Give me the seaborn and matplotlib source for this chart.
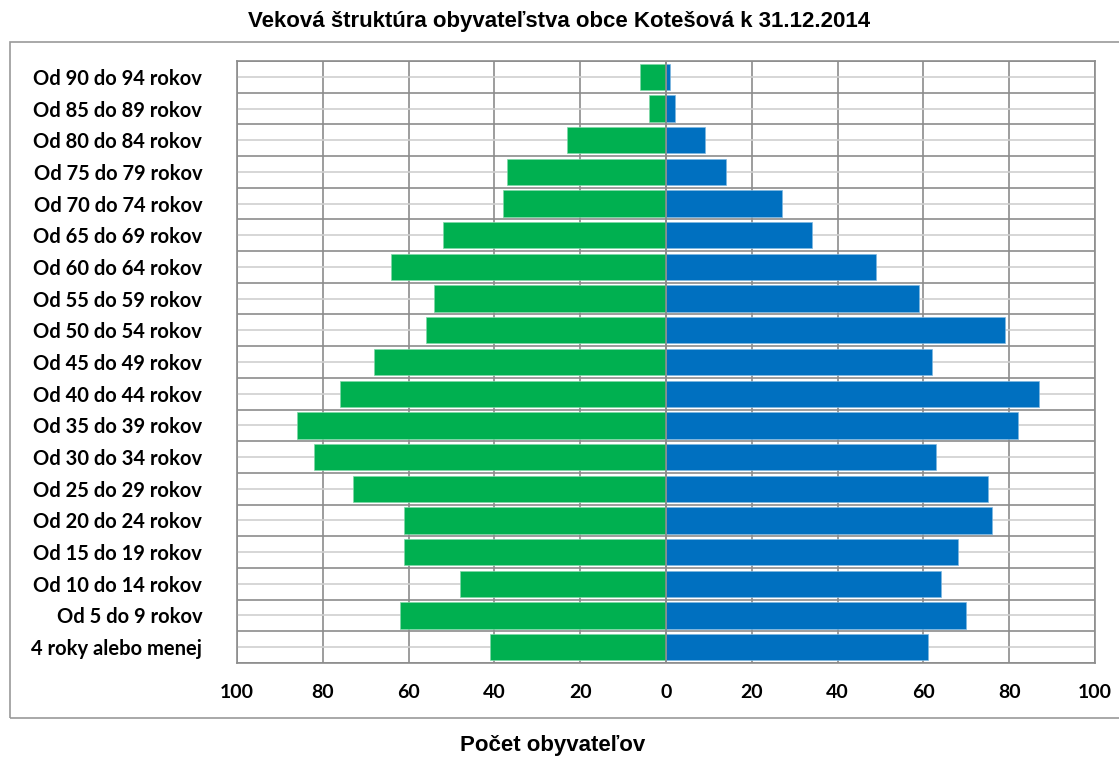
import matplotlib
matplotlib.use('Agg')
from matplotlib import pyplot as plt
from matplotlib.patches import Rectangle
from matplotlib.ticker import FixedLocator
import pandas as pd
import seaborn as sns

# Veková štruktúra - Kotešová 31.12.2014
categories = ['Od 90 do 94 rokov', 'Od 85 do 89 rokov', 'Od 80 do 84 rokov',
              'Od 75 do 79 rokov', 'Od 70 do 74 rokov', 'Od 65 do 69 rokov',
              'Od 60 do 64 rokov', 'Od 55 do 59 rokov', 'Od 50 do 54 rokov',
              'Od 45 do 49 rokov', 'Od 40 do 44 rokov', 'Od 35 do 39 rokov',
              'Od 30 do 34 rokov', 'Od 25 do 29 rokov', 'Od 20 do 24 rokov',
              'Od 15 do 19 rokov', 'Od 10 do 14 rokov', 'Od 5 do 9 rokov',
              '4 roky alebo menej']
green_vals = [6, 4, 23, 37, 38, 52, 64, 54, 56, 68, 76, 86, 82, 73, 61, 61, 48, 62, 41]
blue_vals = [1, 2, 9, 14, 27, 34, 49, 59, 79, 62, 87, 82, 63, 75, 76, 68, 64, 70, 61]
x_ticks = [-100, -80, -60, -40, -20, 0, 20, 40, 60, 80, 100]

df = pd.DataFrame({'vek': categories,
                   'lavy': [-v for v in green_vals],
                   'pravy': blue_vals})

sns.set_style('white')
plt.rcParams['font.family'] = ['Lato', 'DejaVu Sans']
plt.rcParams['text.color'] = 'black'
plt.rcParams['xtick.labelcolor'] = 'black'
plt.rcParams['ytick.labelcolor'] = 'black'

fig = plt.figure(figsize=(11.19, 7.58), dpi=100)
ax = fig.add_axes([237 / 1119, 1 - 663 / 758, (1095 - 237) / 1119, (663 - 61) / 758])

sns.barplot(data=df, y='vek', x='lavy', color='#00B050', saturation=1,
            width=0.83, edgecolor='#7fd8a7', linewidth=0.5, ax=ax, zorder=2)
sns.barplot(data=df, y='vek', x='pravy', color='#0070C0', saturation=1,
            width=0.83, edgecolor='#7fb7e0', linewidth=0.5, ax=ax, zorder=2)

ax.set_xlim(-100, 100)
ax.set_xticks(x_ticks)
ax.set_xticklabels([str(abs(t)) for t in x_ticks], fontsize=14, fontweight='bold', color='black')
ax.set_ylim(len(categories) - 0.5, -0.5)
ax.yaxis.set_minor_locator(FixedLocator([i - 0.5 for i in range(len(categories) + 1)]))
ax.tick_params(axis='y', which='both', length=0, pad=25, labelsize=14.5, labelcolor='black')
for lab in ax.get_yticklabels():
    lab.set_fontweight('bold')
ax.tick_params(axis='x', length=6, width=1.2, color='#8c8c8c', pad=9, direction='out')
ax.set_xlabel('')
ax.set_ylabel('')

ax.grid(axis='y', which='major', color='#d0d0d0', linewidth=1.2, zorder=0)
ax.grid(axis='y', which='minor', color='#8c8c8c', linewidth=1.2, zorder=0)
ax.grid(axis='x', which='major', color='#8c8c8c', linewidth=1.2, zorder=0)
ax.set_axisbelow(True)
ax.axvline(0, color='#8c8c8c', linewidth=1.2, zorder=3)
for s in ax.spines.values():
    s.set_color('#8c8c8c')
    s.set_linewidth(1.2)

fig.text(559 / 1119, 1 - 22 / 758, 'Veková štruktúra obyvateľstva obce Kotešová k 31.12.2014',
         ha='center', va='center', fontsize=16, fontweight='bold', family='Liberation Sans',
         color='black')
fig.text(553 / 1119, 1 - 746 / 758, 'Počet obyvateľov', ha='center', va='center',
         fontsize=16, fontweight='bold', family='Liberation Sans', color='black')

fig.patches.append(Rectangle((10 / 1119, 1 - 718 / 758), 1.2, (718 - 42) / 758,
                             transform=fig.transFigure, fill=False,
                             edgecolor='#9a9a9a', linewidth=1.2))

fig.savefig('out.png', dpi=100)
